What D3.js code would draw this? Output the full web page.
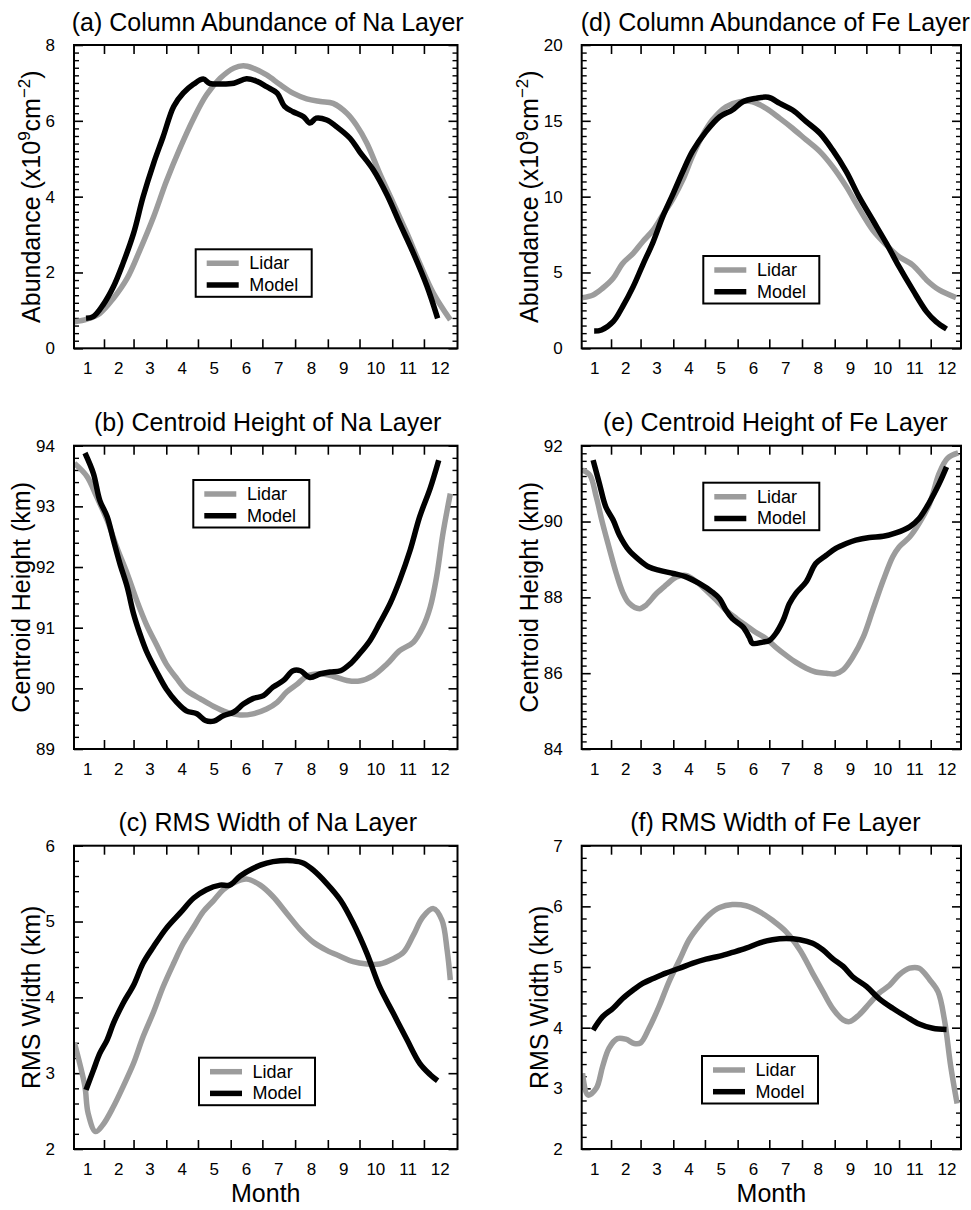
<!DOCTYPE html>
<html>
<head>
<meta charset="utf-8">
<script src="https://cdn.jsdelivr.net/npm/d3@7"></script>
<style>
  body { margin: 0; background: #fff; }
  svg { display: block; font-family: "Liberation Sans", Arial, Helvetica, sans-serif; }
</style>
</head>
<body>
<svg id="chart" width="971" height="1210"></svg>
<script>
// ---------------- DATA ----------------
const monthLabels = ["1","2","3","4","5","6","7","8","9","10","11","12"];
const monthStartDays = [1,32,60,91,121,152,182,213,244,274,305,335,366];
const seriesNames = ["Lidar","Model"];

// Panel titles and axis titles
const panelTitles = [
  "(a) Column Abundance of Na Layer",
  "(b) Centroid Height of Na Layer",
  "(c) RMS Width of Na Layer",
  "(d) Column Abundance of Fe Layer",
  "(e) Centroid Height of Fe Layer",
  "(f) RMS Width of Fe Layer"
];

// y tick labels
const naAbundTicks = [0,2,4,6,8];
const naHeightTicks = [89,90,91,92,93,94];
const naWidthTicks = [2,3,4,5,6];
const feAbundTicks = [0,5,10,15,20];
const feHeightTicks = [84,86,88,90,92];
const feWidthTicks = [2,3,4,5,6,7];

// series: [day of year, value]
const naAbundLidar = [[4,0.70],[16,0.77],[28,0.92],[41,1.32],[54,1.85],[66,2.59],[79,3.47],[91,4.40],[104,5.28],[117,6.07],[129,6.68],[142,7.12],[155,7.39],[164,7.45],[173,7.39],[186,7.21],[199,6.95],[211,6.73],[224,6.58],[237,6.51],[249,6.46],[262,6.20],[271,5.89],[281,5.41],[293,4.62],[306,3.83],[319,3.03],[331,2.24],[344,1.45],[360,0.75]];
const naAbundModel = [[15,0.79],[22,0.84],[31,1.14],[41,1.63],[50,2.24],[60,3.03],[69,3.99],[79,4.88],[88,5.58],[98,6.38],[107,6.73],[117,6.97],[126,7.10],[132,6.99],[142,6.97],[155,6.99],[167,7.11],[177,7.04],[186,6.90],[196,6.73],[203,6.38],[211,6.24],[221,6.11],[227,5.94],[233,6.07],[243,6.02],[252,5.85],[265,5.54],[274,5.19],[287,4.71],[300,4.05],[312,3.30],[325,2.51],[338,1.63],[348,0.79]];

const naHeightLidar = [[4,93.71],[16,93.49],[25,93.16],[35,92.77],[44,92.33],[54,91.89],[63,91.45],[72,91.06],[82,90.71],[91,90.40],[101,90.16],[110,89.97],[123,89.83],[136,89.70],[148,89.61],[161,89.56],[173,89.58],[186,89.66],[196,89.77],[205,89.94],[215,90.07],[224,90.20],[237,90.24],[249,90.20],[262,90.13],[274,90.12],[287,90.21],[300,90.40],[312,90.62],[325,90.76],[334,91.01],[341,91.34],[347,91.84],[353,92.55],[360,93.21]];
const naHeightModel = [[14,93.88],[22,93.54],[28,93.10],[35,92.83],[41,92.44],[47,92.06],[54,91.67],[60,91.23],[66,90.90],[72,90.62],[82,90.27],[91,89.99],[101,89.77],[110,89.63],[120,89.58],[128,89.47],[136,89.46],[145,89.55],[155,89.61],[164,89.74],[173,89.83],[183,89.88],[192,90.02],[202,90.13],[211,90.29],[218,90.29],[227,90.18],[237,90.24],[246,90.27],[256,90.29],[265,90.40],[274,90.57],[284,90.79],[293,91.07],[303,91.40],[312,91.78],[322,92.28],[331,92.83],[341,93.30],[349,93.76]];

const naWidthLidar = [[4,3.40],[9,3.13],[14,2.82],[17,2.47],[24,2.23],[31,2.32],[41,2.56],[50,2.82],[60,3.13],[69,3.48],[79,3.81],[88,4.14],[98,4.45],[107,4.71],[117,4.93],[126,5.13],[136,5.28],[145,5.42],[155,5.51],[167,5.56],[180,5.48],[192,5.33],[205,5.11],[218,4.89],[230,4.73],[243,4.62],[256,4.54],[268,4.47],[281,4.44],[293,4.44],[306,4.51],[316,4.60],[325,4.82],[334,5.06],[344,5.17],[352,5.02],[357,4.62],[360,4.23]];
const naWidthModel = [[15,2.78],[22,3.04],[28,3.26],[35,3.44],[41,3.66],[50,3.92],[60,4.16],[69,4.45],[79,4.67],[91,4.91],[104,5.11],[117,5.31],[129,5.42],[142,5.48],[151,5.48],[161,5.60],[173,5.70],[186,5.77],[199,5.80],[211,5.80],[221,5.77],[230,5.68],[243,5.50],[256,5.28],[268,4.98],[281,4.58],[293,4.14],[306,3.79],[319,3.44],[331,3.13],[341,2.98],[348,2.90]];

const feAbundLidar = [[5,3.34],[15,3.52],[24,3.96],[34,4.62],[43,5.60],[53,6.26],[62,7.03],[72,7.80],[81,8.79],[91,9.89],[100,11.10],[109,12.64],[119,14.07],[128,15.05],[141,15.93],[154,16.26],[166,16.26],[179,15.82],[192,15.16],[204,14.51],[217,13.74],[230,12.97],[242,11.98],[255,10.66],[267,9.23],[280,7.80],[293,6.81],[305,6.04],[318,5.49],[331,4.51],[343,3.85],[359,3.34]];
const feAbundModel = [[16,1.14],[23,1.21],[34,1.76],[43,2.75],[53,4.07],[62,5.49],[72,7.03],[81,8.68],[91,10.22],[100,11.65],[109,12.97],[122,14.29],[135,15.27],[147,15.71],[157,16.26],[169,16.48],[181,16.55],[192,16.15],[204,15.71],[217,14.95],[230,14.18],[242,13.08],[255,11.65],[267,10.00],[280,8.46],[293,6.92],[305,5.38],[318,3.85],[331,2.42],[340,1.76],[350,1.27]];

const feHeightLidar = [[5,91.36],[12,91.22],[18,90.65],[24,89.95],[30,89.33],[37,88.63],[43,88.14],[49,87.85],[59,87.70],[65,87.79],[75,88.10],[84,88.32],[94,88.54],[103,88.58],[113,88.41],[122,88.19],[132,87.92],[141,87.66],[151,87.44],[160,87.26],[169,87.08],[179,86.91],[188,86.69],[198,86.47],[207,86.29],[217,86.13],[226,86.03],[236,86.00],[244,85.98],[252,86.09],[261,86.42],[271,86.95],[280,87.66],[290,88.45],[299,89.07],[305,89.33],[315,89.59],[324,89.95],[334,90.48],[343,91.27],[351,91.67],[361,91.81]];
const feHeightModel = [[15,91.62],[21,91.00],[27,90.39],[34,90.04],[40,89.64],[49,89.24],[59,88.98],[68,88.80],[78,88.71],[91,88.63],[103,88.54],[116,88.36],[128,88.14],[135,87.96],[141,87.66],[147,87.44],[157,87.22],[163,86.95],[166,86.79],[176,86.82],[182,86.86],[188,87.04],[195,87.39],[201,87.83],[207,88.10],[217,88.41],[226,88.89],[236,89.11],[245,89.29],[255,89.42],[264,89.51],[277,89.58],[290,89.61],[302,89.70],[315,89.86],[324,90.08],[334,90.52],[343,91.00],[350,91.44]];

const feWidthLidar = [[5,3.25],[10,2.89],[18,3.00],[24,3.36],[30,3.66],[38,3.82],[46,3.81],[54,3.74],[60,3.75],[68,3.99],[78,4.37],[87,4.76],[97,5.12],[106,5.45],[116,5.69],[125,5.86],[135,5.98],[147,6.03],[160,6.01],[173,5.91],[185,5.77],[198,5.58],[211,5.28],[223,4.90],[233,4.59],[242,4.32],[252,4.13],[258,4.10],[267,4.21],[277,4.40],[286,4.57],[296,4.70],[305,4.87],[315,4.98],[324,4.98],[334,4.79],[342,4.59],[348,4.13],[354,3.36],[360,2.75]];
const feWidthModel = [[15,3.96],[24,4.18],[34,4.32],[43,4.48],[53,4.62],[62,4.73],[72,4.81],[84,4.90],[97,4.98],[109,5.06],[122,5.13],[135,5.18],[147,5.24],[160,5.31],[173,5.40],[185,5.45],[198,5.47],[211,5.45],[223,5.39],[233,5.28],[242,5.14],[252,5.01],[261,4.84],[274,4.68],[286,4.48],[299,4.32],[312,4.18],[324,4.06],[337,3.99],[350,3.97]];

// ---------------- LAYOUT ----------------
const cols = [
  {left: 74, right: 457.5, d0: 3.6, d1: 366.8},
  {left: 581.7, right: 961, d0: 4.2, d1: 363.7}
];
const rowTops = [45, 445.7, 845.7];
const plotH = 303.3;

const panels = [
  {title: panelTitles[0], col:0, row:0, ticks: naAbundTicks, minor:0.2, ylab:"abund", lidar: naAbundLidar, model: naAbundModel, leg:[121.7,204.3]},
  {title: panelTitles[1], col:0, row:1, ticks: naHeightTicks, minor:0.2, ylab:"Centroid Height (km)", lidar: naHeightLidar, model: naHeightModel, leg:[119.3,34.3]},
  {title: panelTitles[2], col:0, row:2, ticks: naWidthTicks, minor:0.2, ylab:"RMS Width (km)", lidar: naWidthLidar, model: naWidthModel, leg:[125,212], month:true},
  {title: panelTitles[3], col:1, row:0, ticks: feAbundTicks, minor:0.5, ylab:"abund", lidar: feAbundLidar, model: feAbundModel, leg:[121.6,211]},
  {title: panelTitles[4], col:1, row:1, ticks: feHeightTicks, minor:0.2, ylab:"Centroid Height (km)", lidar: feHeightLidar, model: feHeightModel, leg:[121.6,37]},
  {title: panelTitles[5], col:1, row:2, ticks: feWidthTicks, minor:0.2, ylab:"RMS Width (km)", lidar: feWidthLidar, model: feWidthModel, leg:[120.3,210.3], month:true}
];

const GRAY = "#9c9c9c";
const svg = d3.select("#chart");
svg.append("rect").attr("width", 971).attr("height", 1210).attr("fill", "#fff");

panels.forEach((p, i) => {
  const c = cols[p.col];
  const top = rowTops[p.row], bottom = top + plotH;
  const x = d3.scaleLinear().domain([c.d0, c.d1]).range([c.left, c.right]);
  const yMin = p.ticks[0], yMax = p.ticks[p.ticks.length - 1];
  const y = d3.scaleLinear().domain([yMin, yMax]).range([bottom, top]);
  const g = svg.append("g");
  const cx = (c.left + c.right) / 2;

  // clip
  const clipId = "clip" + i;
  svg.append("clipPath").attr("id", clipId).append("rect")
    .attr("x", c.left).attr("y", top).attr("width", c.right - c.left).attr("height", plotH);

  // minor ticks
  const nMinor = Math.round((yMax - yMin) / p.minor);
  const minorVals = d3.range(nMinor + 1).map(k => yMin + k * p.minor)
    .filter(v => !p.ticks.some(t => Math.abs(t - v) < 1e-6));

  // axes
  const tickInner = 9, tickMinor = 5;
  const left = g.append("g").attr("transform", `translate(${c.left},0)`)
    .call(d3.axisLeft(y).tickValues(p.ticks).tickSize(-tickInner).tickPadding(10 + tickInner).tickFormat(d3.format("d")));
  left.select(".domain").remove();
  left.selectAll("text").attr("font-size", 17).attr("fill", "#000").attr("font-family", null);
  left.selectAll("line").attr("stroke", "#000").attr("stroke-width", 1.6);
  g.append("g").attr("transform", `translate(${c.left},0)`)
    .call(d3.axisLeft(y).tickValues(minorVals).tickSize(-tickMinor).tickFormat(""))
    .call(s => s.select(".domain").remove())
    .selectAll("line").attr("stroke", "#000").attr("stroke-width", 1.4);
  g.append("g").attr("transform", `translate(${c.right},0)`)
    .call(d3.axisRight(y).tickValues(p.ticks).tickSize(-tickInner).tickFormat(""))
    .call(s => s.select(".domain").remove())
    .selectAll("line").attr("stroke", "#000").attr("stroke-width", 1.6);
  g.append("g").attr("transform", `translate(${c.right},0)`)
    .call(d3.axisRight(y).tickValues(minorVals).tickSize(-tickMinor).tickFormat(""))
    .call(s => s.select(".domain").remove())
    .selectAll("line").attr("stroke", "#000").attr("stroke-width", 1.4);

  const xTicks = monthStartDays.slice(1, 12);
  g.append("g").attr("transform", `translate(0,${bottom})`)
    .call(d3.axisBottom(x).tickValues(xTicks).tickSize(-tickInner).tickFormat(""))
    .call(s => s.select(".domain").remove())
    .selectAll("line").attr("stroke", "#000").attr("stroke-width", 1.6);
  g.append("g").attr("transform", `translate(0,${top})`)
    .call(d3.axisTop(x).tickValues(xTicks).tickSize(-tickInner).tickFormat(""))
    .call(s => s.select(".domain").remove())
    .selectAll("line").attr("stroke", "#000").attr("stroke-width", 1.6);

  // month labels at mid-month
  monthLabels.forEach((m, k) => {
    const mid = (monthStartDays[k] + monthStartDays[k + 1]) / 2;
    g.append("text").attr("x", x(mid)).attr("y", bottom + 25.5)
      .attr("text-anchor", "middle").attr("font-size", 17).text(m);
  });

  // lines
  const line = d3.line().x(d => x(d[0])).y(d => y(d[1])).curve(d3.curveCatmullRom.alpha(0.5));
  const lg = g.append("g").attr("clip-path", `url(#${clipId})`);
  lg.append("path").datum(p.lidar).attr("d", line)
    .attr("fill", "none").attr("stroke", GRAY).attr("stroke-width", 5.5).attr("stroke-linejoin", "round");
  lg.append("path").datum(p.model).attr("d", line)
    .attr("fill", "none").attr("stroke", "#000").attr("stroke-width", 5.5).attr("stroke-linejoin", "round");

  // frame
  g.append("rect").attr("x", c.left).attr("y", top).attr("width", c.right - c.left).attr("height", plotH)
    .attr("fill", "none").attr("stroke", "#000").attr("stroke-width", 2);

  // title
  g.append("text").attr("x", cx + (p.col === 0 ? 2 : 4)).attr("y", top - 14.5)
    .attr("text-anchor", "middle").attr("font-size", 25).text(p.title);

  // y axis label
  const digits = d3.max(p.ticks, t => String(t).length);
  const yx = c.left - (digits === 2 ? 44 : 34);
  const yc = (top + bottom) / 2;
  const yt = g.append("text").attr("transform", `translate(${yx},${yc}) rotate(-90)`)
    .attr("text-anchor", "middle").attr("font-size", 25);
  if (p.ylab === "abund") {
    yt.append("tspan").text("Abundance (x10");
    yt.append("tspan").attr("font-size", 17).attr("dy", -10).text("9");
    yt.append("tspan").attr("dy", 10).text("cm");
    yt.append("tspan").attr("font-size", 17).attr("dy", -10).text("\u22122");
    yt.append("tspan").attr("dy", 10).text(")");
  } else {
    yt.text(p.ylab);
  }

  if (p.month) {
    g.append("text").attr("x", cx).attr("y", bottom + 53)
      .attr("text-anchor", "middle").attr("font-size", 25).text("Month");
  }

  // legend
  const lx = c.left + p.leg[0], ly = top + p.leg[1];
  const leg = g.append("g");
  leg.append("rect").attr("x", lx).attr("y", ly).attr("width", 116).attr("height", 47.5)
    .attr("fill", "#fff").attr("stroke", "#000").attr("stroke-width", 2);
  [GRAY, "#000"].forEach((col, k) => {
    leg.append("line").attr("x1", lx + 11).attr("x2", lx + 43)
      .attr("y1", ly + 14 + k * 21.7).attr("y2", ly + 14 + k * 21.7)
      .attr("stroke", col).attr("stroke-width", 5.5);
    leg.append("text").attr("x", lx + 53.6).attr("y", ly + 20 + k * 21.7)
      .attr("font-size", 18).text(seriesNames[k]);
  });
});
</script>
</body>
</html>
